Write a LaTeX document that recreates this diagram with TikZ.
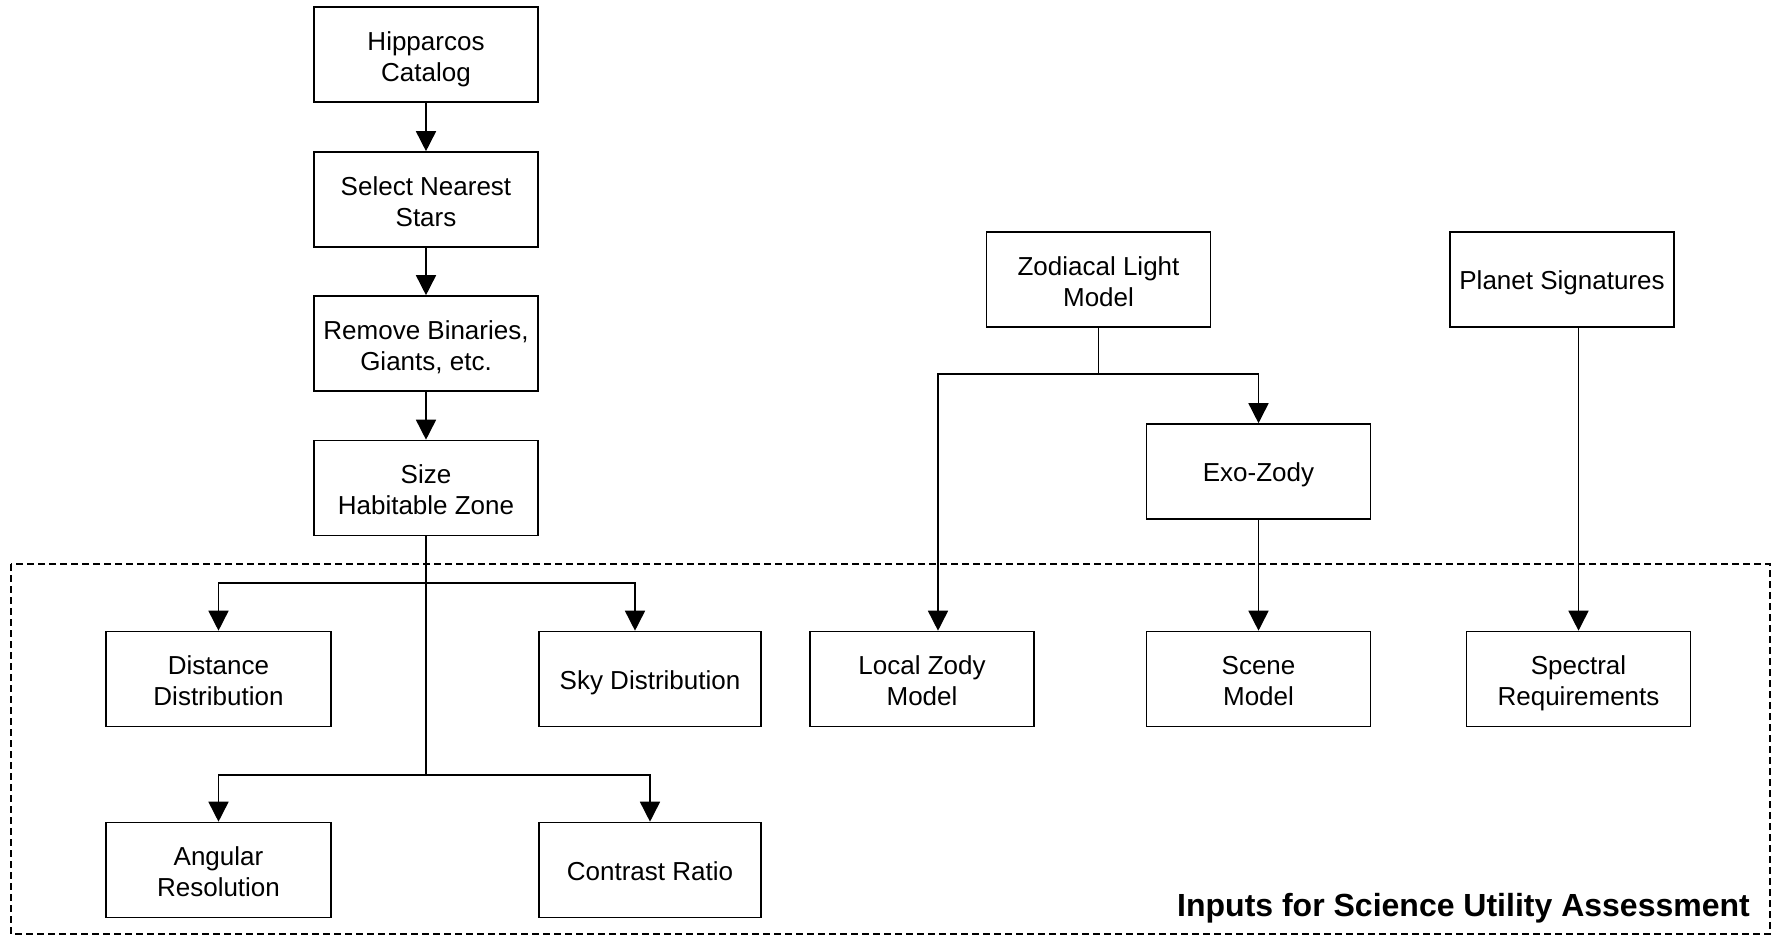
\documentclass[tikz,border=0pt]{standalone}
\usepackage{fontspec}
\setmainfont{Liberation Sans}
\usetikzlibrary{arrows.meta}
\tikzset{
  box/.style={draw, line width=1.6pt, minimum width=224pt, minimum height=95pt, inner sep=0pt, align=center, font=\fontsize{26}{31}\selectfont, text height=20pt, text depth=0pt},
  two/.style={text height=53.5pt, text depth=0pt},
  arr/.style={line width=1.6pt, -{Triangle[length=20pt,width=20pt]}},
  ln/.style={line width=1.6pt},
  frame/.style={line width=1.4pt, dash pattern=on 7pt off 4pt}
}
\begin{document}
\begin{tikzpicture}[x=1pt,y=-1pt]
\useasboundingbox (0,0) rectangle (1776,936);
\draw[frame] (11,564) rectangle (1770,934);
\node[box,two] (hip) at (426,54.5) {Hipparcos\\Catalog};
\node[box,two] (sel) at (426,199.5) {Select Nearest\\Stars};
\node[box,two] (rem) at (426,343.5) {Remove Binaries,\\Giants, etc.};
\node[box,two] (size) at (426,488) {Size\\Habitable Zone};
\node[box,two, minimum width=225pt] (dist) at (218.5,679) {Distance\\Distribution};
\node[box, minimum width=222pt] (sky) at (650,679) {Sky Distribution};
\node[box,two, minimum width=225pt] (ang) at (218.5,870) {Angular\\Resolution};
\node[box, minimum width=222pt] (con) at (650,870) {Contrast Ratio};
\node[box,two] (zod) at (1098.5,279.5) {Zodiacal Light\\Model};
\node[box] (exo) at (1258.5,471.5) {Exo-Zody};
\node[box,two] (loc) at (922,679) {Local Zody\\Model};
\node[box,two] (scene) at (1258.5,679) {Scene\\Model};
\node[box] (planet) at (1562,279.5) {Planet Signatures};
\node[box,two] (spec) at (1578.5,679) {Spectral\\Requirements};
\coordinate (b1) at (426,583);
\coordinate (b2) at (426,775);
\coordinate (zb) at (1098.5,374);
\draw[arr] (hip) -- (sel);
\draw[arr] (sel) -- (rem);
\draw[arr] (rem) -- (size);
\draw[ln] (size.south) -- (b2);
\draw[arr] (b1) -| (dist.north);
\draw[arr] (b1) -| ([xshift=-15pt]sky.north);
\draw[arr] (b2) -| (ang.north);
\draw[arr] (b2) -| (con.north);
\draw[ln] (zod.south) -- (zb);
\draw[arr] (zb) -| ([xshift=16pt]loc.north);
\draw[arr] (zb) -| (exo.north);
\draw[arr] (exo) -- (scene);
\draw[arr] (spec.north |- planet.south) -- (spec.north);
\node[anchor=base east, font=\bfseries\fontsize{32}{38}\selectfont, inner sep=0pt] (lbl) at (1750,916) {Inputs for Science Utility Assessment};
\end{tikzpicture}
\end{document}
